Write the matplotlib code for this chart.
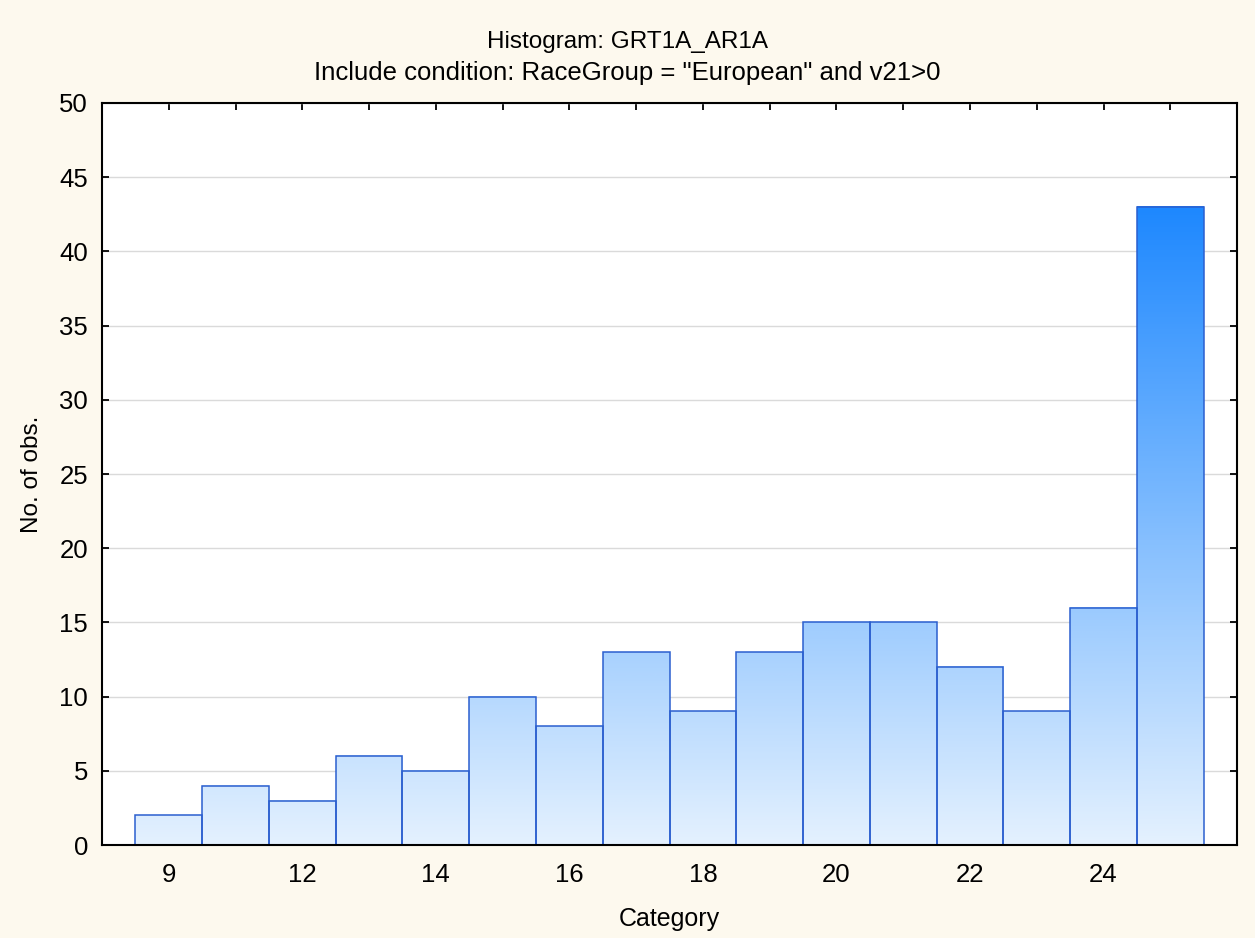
import matplotlib
matplotlib.use("Agg")
import matplotlib.pyplot as plt
import numpy as np
from matplotlib.colors import LinearSegmentedColormap

categorias = [9, 11, 12, 13, 14, 15, 16, 17, 18, 19, 20, 21, 22, 23, 24, 25]
contagens = [2, 4, 3, 6, 5, 10, 8, 13, 9, 13, 15, 15, 12, 9, 16, 43]
rotulos_x = ["9", "", "12", "", "14", "", "16", "", "18", "", "20", "", "22", "", "24", ""]

titulo1 = "Histogram: GRT1A_AR1A"
titulo2 = 'Include condition: RaceGroup = "European" and v21>0'


def main():
	plt.rcParams['font.family'] = ['Liberation Sans', 'DejaVu Sans']
	fig = plt.figure(figsize=(12.55, 9.38), dpi=100)
	fig.patch.set_facecolor("#fdf9ee")
	ax = fig.add_axes([0.0813, 0.0991, 0.9044, 0.7911])
	ax.set_facecolor("white")

	cmap = LinearSegmentedColormap.from_list("grad", [(228/255, 241/255, 254/255), (30/255, 136/255, 255/255)])
	vmax = max(contagens)
	pos = np.arange(len(categorias))

	#gradiente vertical em cada barra
	for x, h in zip(pos, contagens):
		grad = np.linspace(0, h, 200).reshape(-1, 1)
		ax.imshow(grad, cmap=cmap, vmin=0, vmax=vmax, origin="lower", aspect="auto",
				extent=(x - 0.5, x + 0.5, 0, h), zorder=2, interpolation="bilinear")
	ax.bar(pos, contagens, width=1.0, fill=False, edgecolor="#2b5fcf", linewidth=1.1, zorder=3)

	ax.set_xlim(-1, 16)
	ax.set_ylim(0, 50)
	ax.set_yticks(np.arange(0, 51, 5))
	ax.set_xticks(pos)
	ax.set_xticklabels(rotulos_x)
	ax.yaxis.grid(True, color="#dadada", linewidth=1, zorder=0)
	ax.set_axisbelow(True)
	ax.tick_params(direction="in", length=5, width=1.3, top=True, right=True, labelsize=18.5, pad=10)
	ax.tick_params(axis="x", pad=13)
	for s in ax.spines.values():
		s.set_linewidth(1.5)
		s.set_zorder(5)

	ax.set_xlabel("Category", fontsize=18, labelpad=14)
	ax.set_ylabel("No. of obs.", fontsize=17.5, labelpad=12)
	fig.text(0.5, 0.955, titulo1, ha="center", va="center", fontsize=17.5)
	fig.text(0.5, 0.922, titulo2, ha="center", va="center", fontsize=18.5)

	fig.savefig("out.png", dpi=100, facecolor=fig.get_facecolor())


if __name__ == '__main__':
	main()
